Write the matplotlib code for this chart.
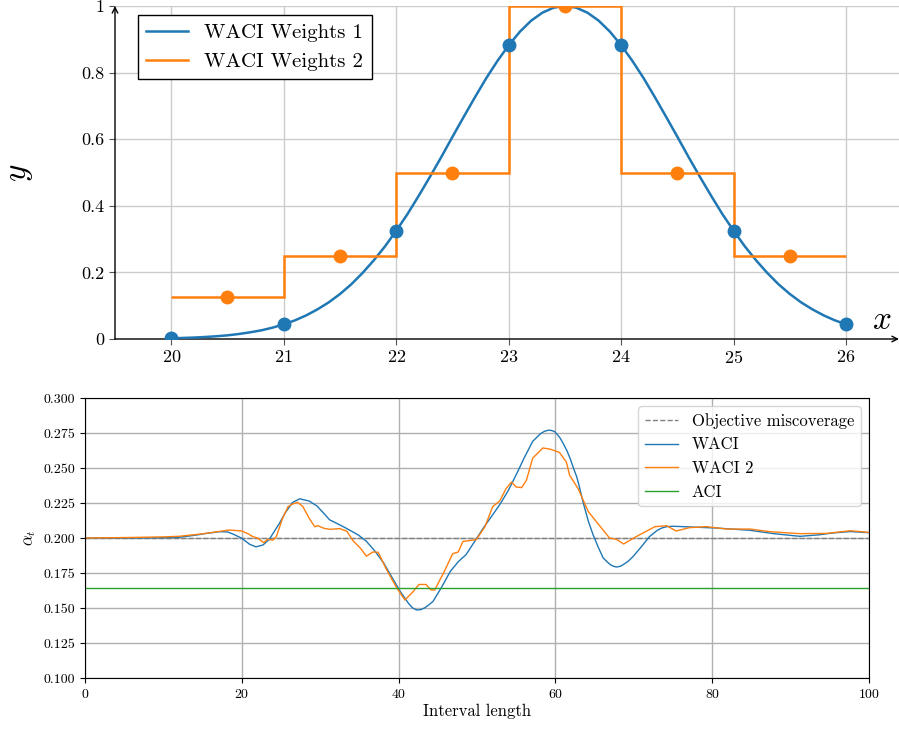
import matplotlib
matplotlib.use("Agg")
import matplotlib.pyplot as plt
import numpy as np
from matplotlib.ticker import FormatStrFormatter

plt.rcParams["font.family"] = "serif"
plt.rcParams["font.serif"] = ["cmr10", "DejaVu Serif"]
plt.rcParams["mathtext.fontset"] = "cm"
plt.rcParams["axes.formatter.use_mathtext"] = True
plt.rcParams["axes.unicode_minus"] = False

# --- top panel data ---
curve_y = [
    0.0022, 0.0031, 0.0043, 0.0060, 0.0082, 0.011, 0.015, 0.020, 0.026, 0.034,
    0.044, 0.056, 0.071, 0.089, 0.110, 0.135, 0.164, 0.198, 0.236, 0.278,
    0.325, 0.375, 0.430, 0.487, 0.546, 0.607, 0.667, 0.726, 0.783, 0.835,
    0.882, 0.923, 0.956, 0.980, 0.995, 1.000, 0.995, 0.980, 0.956, 0.923,
    0.882, 0.835, 0.783, 0.726, 0.667, 0.607, 0.546, 0.487, 0.430, 0.375,
    0.325, 0.278, 0.236, 0.198, 0.164, 0.135, 0.110, 0.089, 0.071, 0.056,
    0.044,
]
curve_x = np.linspace(20, 26, len(curve_y))
w1_x = [20, 21, 22, 23, 24, 25, 26]
w1_y = [0.0022, 0.044, 0.325, 0.882, 0.882, 0.325, 0.044]
w2_edges = [20, 21, 22, 23, 24, 25, 26]
w2_levels = [0.125, 0.25, 0.5, 1.0, 0.5, 0.25]
w2_x = [20.5, 21.5, 22.5, 23.5, 24.5, 25.5]
top_xticks = [20, 21, 22, 23, 24, 25, 26]
top_yticks = [0, 0.2, 0.4, 0.6, 0.8, 1]
top_yticklabels = ["0", "0.2", "0.4", "0.6", "0.8", "1"]

# --- bottom panel data ---
objective = 0.2
aci_level = 0.164
waci_x = [0, 5, 10, 12, 14.2, 15.5, 17.2, 18.2, 19, 20, 21, 21.8, 22.7, 23.5,
          24.8, 25.6, 26.5, 27.4, 28.6, 29.6, 30.4, 31.2, 32.8, 33.8, 34.9,
          35.9, 37.0, 38.1, 39.2, 40.2, 41.3, 41.8, 42.3, 42.8, 43.3, 43.8,
          44.4, 45.5, 46.6, 47.6, 48.6, 49.7, 50.8, 51.8, 52.9, 54.0, 55.0,
          56.0, 57.1, 58.1, 58.6, 59.1, 59.5, 59.9, 60.2, 60.6, 61.0, 61.5,
          61.9, 62.3, 62.7, 63.0, 63.5, 64.2, 64.8, 65.5, 66.1, 66.6, 67.0,
          67.4, 67.8, 68.3, 68.8, 69.3, 69.9, 70.4, 71.0, 72.0, 73.0, 73.6,
          74.2, 75.0, 76.3, 80.6, 84.8, 88.0, 91.2, 93.5, 95.4, 97.6, 100]
waci_y = [0.2000, 0.2000, 0.2002, 0.2005, 0.2021, 0.2033, 0.2045, 0.2043,
          0.2025, 0.1998, 0.1955, 0.1937, 0.1950, 0.1990, 0.2105, 0.2185,
          0.2255, 0.2280, 0.2264, 0.2228, 0.2180, 0.2130, 0.2085, 0.2055,
          0.2020, 0.1976, 0.1905, 0.1821, 0.1715, 0.1619, 0.1530, 0.1500,
          0.1486, 0.1488, 0.1500, 0.1520, 0.1548, 0.1650, 0.1762, 0.1830,
          0.1881, 0.1975, 0.2071, 0.2150, 0.2238, 0.2340, 0.2452, 0.2570,
          0.2690, 0.2745, 0.2762, 0.2770, 0.2768, 0.2760, 0.2742, 0.2714,
          0.2675, 0.2620, 0.2565, 0.2500, 0.2440, 0.2380, 0.2262, 0.2120,
          0.2024, 0.1930, 0.1857, 0.1830, 0.1810, 0.1798, 0.1793, 0.1798,
          0.1815, 0.1835, 0.1867, 0.1900, 0.1940, 0.2010, 0.2055, 0.2072,
          0.2081, 0.2084, 0.2081, 0.2071, 0.2055, 0.2030, 0.2012, 0.2022,
          0.2036, 0.2046, 0.2038]
waci2_x = [0, 5, 10, 12, 15, 18.4, 20.0, 20.8, 21.4, 22.0, 22.8, 23.3, 24.0,
           24.4, 25.2, 25.9, 26.5, 27.1, 27.8, 28.6, 29.3, 29.7, 30.5, 31.2,
           32.5, 33.4, 34.2, 35.1, 35.9, 36.7, 37.4, 38.4, 39.7, 40.8, 41.8,
           42.6, 43.5, 44.1, 44.6, 45.9, 46.9, 47.6, 48.2, 49.9, 51.0, 52.0,
           52.9, 53.7, 54.4, 55.0, 55.7, 56.3, 57.1, 58.4, 59.3, 60.5, 61.4,
           61.8, 62.9, 64.2, 66.9, 67.8, 68.7, 70.3, 72.7, 74.2, 75.4, 77.1,
           79.3, 81.8, 84.8, 87.4, 91.2, 94.6, 97.6, 100]
waci2_y = [0.2000, 0.2003, 0.2008, 0.2012, 0.2030, 0.2057, 0.2050, 0.2030,
           0.2010, 0.2000, 0.1967, 0.1990, 0.1985, 0.2010, 0.2140, 0.2224,
           0.2243, 0.2255, 0.2224, 0.2140, 0.2081, 0.2088, 0.2069, 0.2062,
           0.2067, 0.2048, 0.1980, 0.1929, 0.1870, 0.1900, 0.1898, 0.1781,
           0.1650, 0.1557, 0.1614, 0.1668, 0.1668, 0.1630, 0.1628, 0.1769,
           0.1888, 0.1900, 0.1975, 0.1988, 0.2079, 0.2224, 0.2265, 0.2352,
           0.2400, 0.2364, 0.2360, 0.2412, 0.2570, 0.2643, 0.2635, 0.2612,
           0.2543, 0.2450, 0.2352, 0.2188, 0.2000, 0.1990, 0.1957, 0.2010,
           0.2081, 0.2088, 0.2050, 0.2074, 0.2081, 0.2064, 0.2064, 0.2045,
           0.2031, 0.2033, 0.2052, 0.2040]

BLUE = "#1f77b4"
ORANGE = "#ff7f0e"
GREEN = "#2ca02c"

W, H = 899, 730
fig = plt.figure(figsize=(W / 100, H / 100), dpi=100)

# ---------------- top panel ----------------
ax1 = fig.add_axes([115 / W, (H - 339) / H, 784 / W, 333 / H])
ax1.set_xlim(19.5, 26.47)
ax1.set_ylim(0, 1)
ax1.grid(True, color="#cccccc", linewidth=1.0)
ax1.set_axisbelow(True)
for side in ("top", "right", "left", "bottom"):
    ax1.spines[side].set_visible(False)
ax1.annotate("", xy=(1.0, 0), xytext=(0, 0), xycoords="axes fraction",
             arrowprops=dict(arrowstyle="->", color="black", lw=1.0,
                             shrinkA=0, shrinkB=0))
ax1.annotate("", xy=(0, 1.0), xytext=(0, 0), xycoords="axes fraction",
             arrowprops=dict(arrowstyle="->", color="black", lw=1.0,
                             shrinkA=0, shrinkB=0))

ax1.plot(curve_x, curve_y, color=BLUE, lw=1.8, label="WACI Weights 1", zorder=3)
ax1.stairs(w2_levels, w2_edges, baseline=None, color=ORANGE, lw=1.8,
           label="WACI Weights 2", zorder=3)
ax1.plot(w1_x, w1_y, "o", color=BLUE, ms=9, zorder=4)
ax1.plot(w2_x, w2_levels, "o", color=ORANGE, ms=9, zorder=4)

ax1.set_xticks(top_xticks)
ax1.set_yticks(top_yticks)
ax1.set_yticklabels(top_yticklabels)
ax1.tick_params(axis="both", labelsize=13, length=4, color="#555555")
ax1.set_ylabel("$y$", fontsize=24, rotation=90, va="center")
ax1.yaxis.set_label_coords(-0.121, 0.5)
ax1.text(26.32, 0.057, "$x$", fontsize=24, ha="center", va="center")

leg1 = ax1.legend(loc="upper left", bbox_to_anchor=(0.029, 0.973),
                  borderaxespad=0, fontsize=15, fancybox=False,
                  edgecolor="black", framealpha=1.0)
leg1.get_frame().set_linewidth(1.0)

# ---------------- bottom panel ----------------
ax2 = fig.add_axes([85 / W, 52 / H, 784 / W, 280 / H])
ax2.axhline(objective, color="gray", ls="--", lw=1.0,
            label="Objective miscoverage")
ax2.plot(waci_x, waci_y, color=BLUE, lw=1.0, label="WACI")
ax2.plot(waci2_x, waci2_y, color=ORANGE, lw=1.0, label="WACI 2")
ax2.axhline(aci_level, color=GREEN, lw=1.0, label="ACI")

ax2.set_xlim(0, 100)
ax2.set_ylim(0.1, 0.3)
ax2.set_xticks([0, 20, 40, 60, 80, 100])
ax2.set_yticks(np.arange(0.1, 0.3001, 0.025))
ax2.yaxis.set_major_formatter(FormatStrFormatter("%.3f"))
ax2.tick_params(axis="both", labelsize=10)
ax2.grid(True, color="#b0b0b0", linewidth=1.0)
ax2.set_axisbelow(True)
ax2.set_xlabel("Interval length", fontsize=12, labelpad=2)
ax2.set_ylabel(r"$\alpha_t$", fontsize=12)
ax2.legend(loc="upper right", fontsize=12)

fig.savefig("out.png", dpi=100)
